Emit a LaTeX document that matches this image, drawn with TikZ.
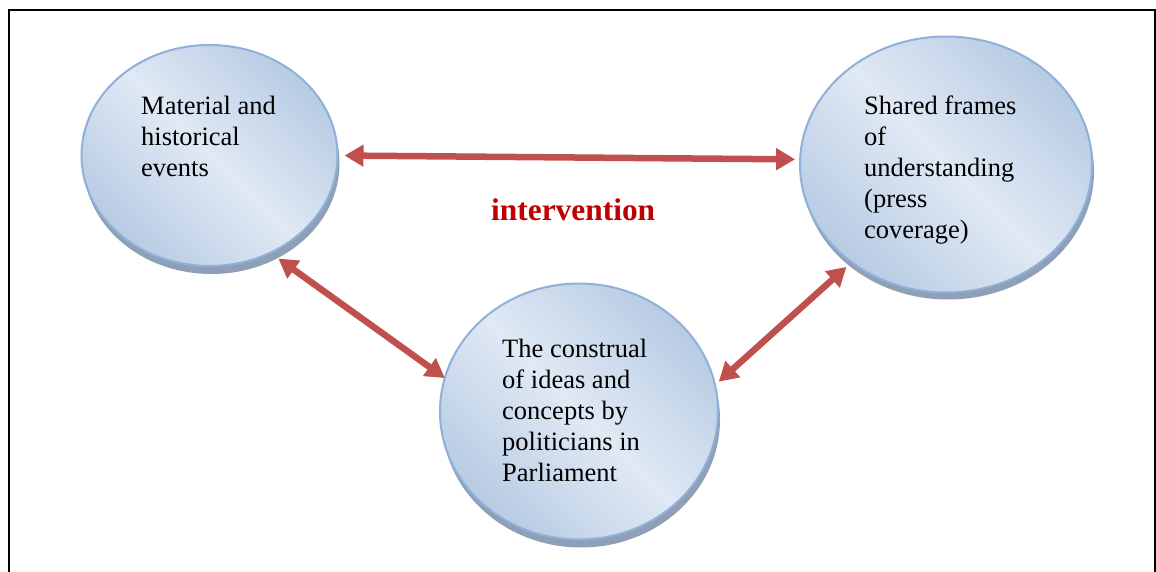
\documentclass[tikz,border=0pt]{standalone}
\usepackage{fontspec}
\setmainfont{Liberation Serif}
\usetikzlibrary{shapes.geometric,arrows.meta}
\definecolor{bubdark}{HTML}{B6CAE3}
\definecolor{bublight}{HTML}{E0E9F4}
\definecolor{bubline}{HTML}{8FB0D8}
\definecolor{bubshadow}{HTML}{8E9FB6}
\definecolor{arrred}{HTML}{C0504D}
\definecolor{intred}{HTML}{C00000}
\pgfdeclarehorizontalshading{bubgrad}{100bp}{color(0bp)=(bubdark); color(24bp)=(bubdark); color(50bp)=(bublight); color(76bp)=(bubdark); color(100bp)=(bubdark)}
\begin{document}
\begin{tikzpicture}[x=1pt,y=-1pt,
  bubble/.style={ellipse, draw=bubline, line width=2pt, inner sep=0pt, outer sep=0pt, shading=bubgrad, shading angle=45},
  bubshade/.style={ellipse, fill=bubshadow, inner sep=0pt, outer sep=0pt},
  bubtext/.style={anchor=north west, inner sep=0pt, align=left, font=\fontsize{26.5}{31}\selectfont},
  link/.style={{Triangle[width=21pt,length=19pt]}-{Triangle[width=21pt,length=19pt]}, draw=arrred, line width=6.5pt}
]
\useasboundingbox (0,0) rectangle (1156,572);
\fill[white] (0,0) rectangle (1156,572);
\draw[line width=2pt] (8.5,580) -- (8.5,10) -- (1154.5,10) -- (1154.5,580);

% shadows
\node[bubshade, minimum width=256pt, minimum height=221pt] (Ash) at (211.5,163.5) {};
\node[bubshade, minimum width=292pt, minimum height=256pt] (Csh) at (948,171.5) {};
\node[bubshade, minimum width=278pt, minimum height=256pt] (Bsh) at (581,419.5) {};

% bubbles
\node[bubble, minimum width=256pt, minimum height=221pt] (A) at (209.5,155.5) {};
\node[bubble, minimum width=292pt, minimum height=256pt] (C) at (946,164.5) {};
\node[bubble, minimum width=278pt, minimum height=256pt] (B) at (579,411.5) {};

% texts
\node[bubtext] (At) at (141,96) {Material and\\historical\\events};
\node[bubtext] (Ct) at (864,96) {Shared frames\\of\\understanding\\(press\\coverage)};
\node[bubtext] (Bt) at (502,339) {The construal\\of ideas and\\concepts by\\politicians in\\Parliament};

\node[anchor=base west, inner sep=0pt, text=intred, font=\fontsize{31.4}{36}\selectfont\bfseries] (iv) at (491,221) {intervention};

% connectors
\draw[link, shorten <=7pt, shorten >=5pt] (A.-0.5) -- (C.178.6);
\draw[link, shorten <=10pt] (A.-58) -- (B.166);
\draw[link, shorten <=7pt, shorten >=5pt] (C.226) -- (B.11);
\end{tikzpicture}
\end{document}
